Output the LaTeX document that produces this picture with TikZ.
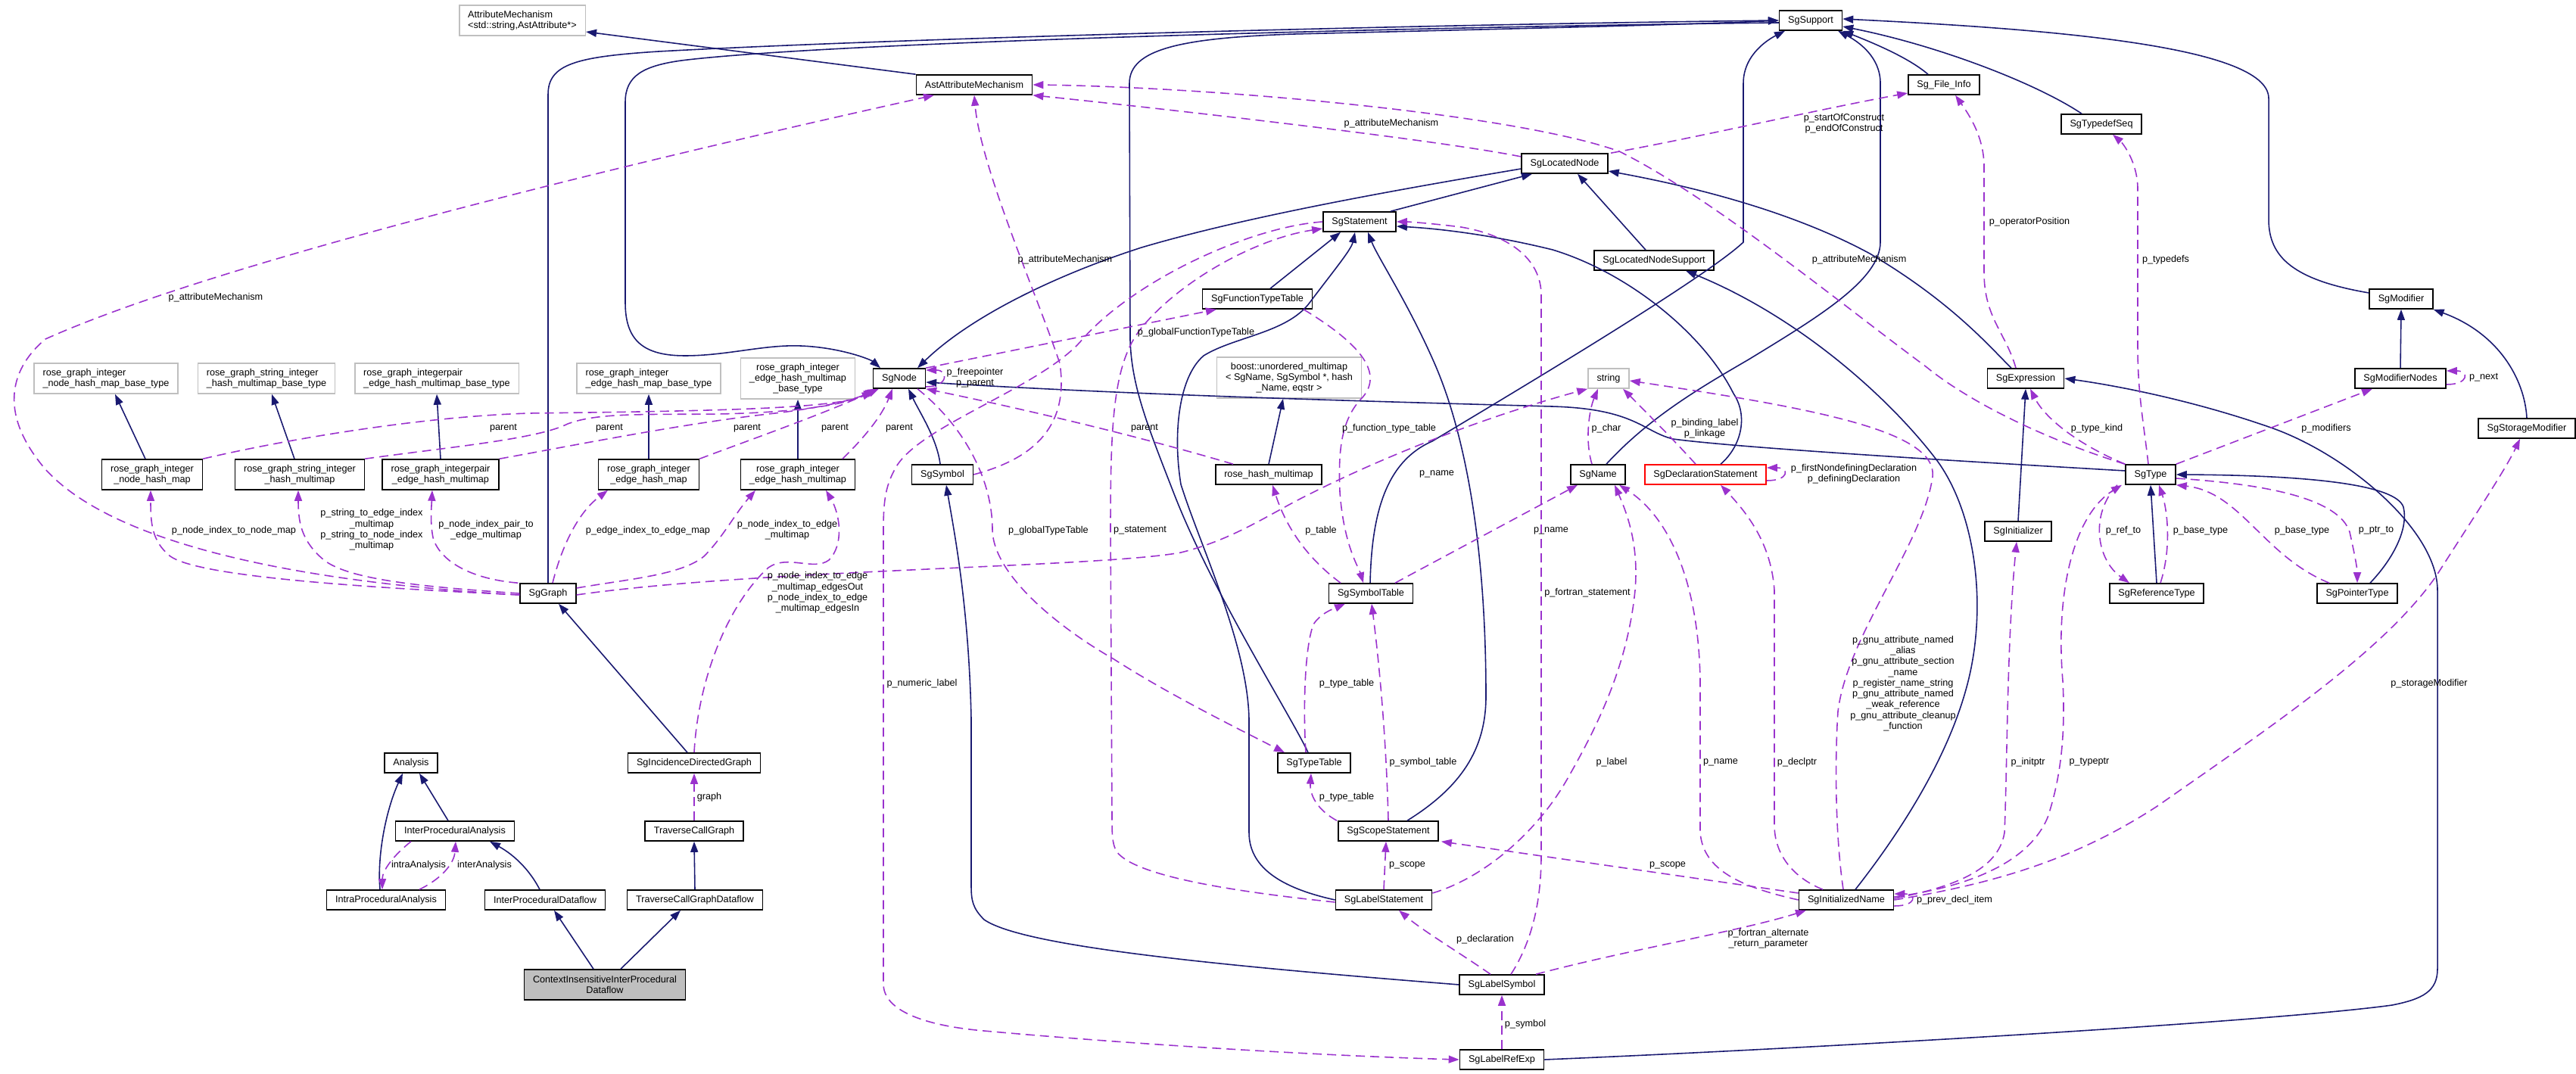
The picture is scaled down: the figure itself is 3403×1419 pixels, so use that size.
\documentclass[tikz,border=0pt]{standalone}
\usepackage{fontspec}
\setmainfont{Liberation Sans}
\usetikzlibrary{arrows.meta}
\definecolor{inhblue}{HTML}{191970}
\definecolor{usepurple}{HTML}{9A32CD}
\definecolor{extgray}{HTML}{BFBFBF}
\begin{document}
\begin{tikzpicture}[x=0.01cm,y=-0.01cm,>={Triangle[length=0.14cm,width=0.1cm]},
        font=\fontsize{3.6pt}{4.05pt}\selectfont,
        cls/.style={draw=black,line width=0.45pt,fill=white,align=center,inner xsep=0.115cm,inner ysep=0.02cm,minimum height=0.26cm},
        ext/.style={cls,draw=extgray},
        two/.style={minimum height=0.40cm},
        three/.style={minimum height=0.54cm},
        inh/.style={->,draw=inhblue,line width=0.45pt},
        dep/.style={->,draw=usepurple,line width=0.45pt,dash pattern=on 0.12cm off 0.07cm},
        lbl/.style={inner sep=0pt,align=center}]
        \useasboundingbox (0,0) rectangle (3403,1419);
        \node[ext,two,align=left] (am) at (690,27) {AttributeMechanism\\<std::string,AstAttribute*>};
        \node[cls] (sup) at (2392,27) {SgSupport};
        \node[cls] (aam) at (1287,112) {AstAttributeMechanism};
        \node[cls] (fi) at (2568,112) {Sg\_File\_Info};
        \node[cls] (tds) at (2776,164) {SgTypedefSeq};
        \node[cls] (lnode) at (2067,216) {SgLocatedNode};
        \node[cls] (stmt) at (1796,293) {SgStatement};
        \node[cls] (lns) at (2185,344) {SgLocatedNodeSupport};
        \node[cls] (ftt) at (1661,395) {SgFunctionTypeTable};
        \node[cls] (mod) at (3172,395) {SgModifier};
        \node[ext,two,align=left] (b1) at (140,500) {rose\_graph\_integer\\\_node\_hash\_map\_base\_type};
        \node[ext,two,align=left] (b2) at (352,500) {rose\_graph\_string\_integer\\\_hash\_multimap\_base\_type};
        \node[ext,two,align=left] (b3) at (577,500) {rose\_graph\_integerpair\\\_edge\_hash\_multimap\_base\_type};
        \node[ext,two,align=left] (b4) at (857,500) {rose\_graph\_integer\\\_edge\_hash\_map\_base\_type};
        \node[ext,three] (b5) at (1054,500) {rose\_graph\_integer\\\_edge\_hash\_multimap\\\_base\_type};
        \node[cls] (sgnode) at (1188,500) {SgNode};
        \node[ext,three] (boost) at (1703,499) {boost::unordered\_multimap\\< SgName, SgSymbol *, hash\\\_Name, eqstr >};
        \node[ext] (str) at (2125,500) {string};
        \node[cls] (expr) at (2676,500) {SgExpression};
        \node[cls] (mn) at (3171,500) {SgModifierNodes};
        \node[cls] (stor) at (3338,566) {SgStorageModifier};
        \node[cls,two] (r1) at (201,627) {rose\_graph\_integer\\\_node\_hash\_map};
        \node[cls,two] (r2) at (396,627) {rose\_graph\_string\_integer\\\_hash\_multimap};
        \node[cls,two] (r3) at (582,627) {rose\_graph\_integerpair\\\_edge\_hash\_multimap};
        \node[cls,two] (r4) at (857,627) {rose\_graph\_integer\\\_edge\_hash\_map};
        \node[cls,two] (r5) at (1054,627) {rose\_graph\_integer\\\_edge\_hash\_multimap};
        \node[cls] (sym) at (1245,627) {SgSymbol};
        \node[cls] (rhm) at (1676,627) {rose\_hash\_multimap};
        \node[cls] (sgname) at (2111,627) {SgName};
        \node[cls,draw=red] (decl) at (2253,627) {SgDeclarationStatement};
        \node[cls] (sgtype) at (2841,627) {SgType};
        \node[cls] (init) at (2666,702) {SgInitializer};
        \node[cls] (sggraph) at (724,784) {SgGraph};
        \node[cls] (symtab) at (1811,784) {SgSymbolTable};
        \node[cls] (reftype) at (2849,784) {SgReferenceType};
        \node[cls] (ptrtype) at (3114,784) {SgPointerType};
        \node[cls] (ana) at (543,1008) {Analysis};
        \node[cls] (idg) at (917,1008) {SgIncidenceDirectedGraph};
        \node[cls] (tt) at (1736,1008) {SgTypeTable};
        \node[cls] (ipa) at (601,1098) {InterProceduralAnalysis};
        \node[cls] (tcg) at (917,1098) {TraverseCallGraph};
        \node[cls] (scope) at (1834,1098) {SgScopeStatement};
        \node[cls] (intra) at (510,1189) {IntraProceduralAnalysis};
        \node[cls] (ipd) at (720,1189) {InterProceduralDataflow};
        \node[cls] (tcgd) at (918,1189) {TraverseCallGraphDataflow};
        \node[cls] (lstmt) at (1828,1189) {SgLabelStatement};
        \node[cls] (iname) at (2439,1189) {SgInitializedName};
        \node[cls,two,fill=extgray] (ci) at (799,1301) {ContextInsensitiveInterProcedural\\Dataflow};
        \node[cls] (lsym) at (1984,1301) {SgLabelSymbol};
        \node[cls] (lref) at (1984,1400) {SgLabelRefExp};

        \draw[inh] (aam.north west) -- ([yshift=-0.15cm]am.east);
        \draw[inh] ([yshift=-0.03cm]sup.west) .. controls (1900,35) and (1100,55) .. (900,80) .. controls (850,87) and (826,100) .. (826,135) -- (826,400) .. controls (826,450) and (850,470) .. (905,470) .. controls (960,470) and (1010,455) .. (1058,457) .. controls (1110,459) and (1150,475) .. ([xshift=-0.25cm]sgnode.north);
        \draw[inh] (sggraph.north) -- (724,125) .. controls (724,85) and (760,75) .. (870,68) .. controls (1200,50) and (1900,32) .. (sup.west);
        \draw[inh] ([xshift=-0.08cm]tt.north) .. controls (1705,945) and (1600,780) .. (1550,650) .. controls (1515,560) and (1495,510) .. (1493,450) -- (1492,110) .. controls (1492,65) and (1560,50) .. (1710,45) .. controls (2000,38) and (2250,32) .. (sup.west);
        \draw[inh] ([yshift=-0.07cm]lnode.west) .. controls (1850,250) and (1650,285) .. (1508,327) .. controls (1390,365) and (1280,420) .. ([xshift=0.24cm]sgnode.north);
        \draw[inh] ([xshift=-0.03cm]sym.north) .. controls (1238,580) and (1215,545) .. ([xshift=0.12cm]sgnode.south);
        \draw[inh] ([yshift=0.05cm]sgtype.west) .. controls (2600,610) and (2300,592) .. (2210,580) .. controls (2170,570) and (2160,540) .. (2050,537) .. controls (1800,530) and (1500,522) .. ([yshift=-0.05cm]sgnode.east);
        \draw[inh] ([xshift=0.41cm]stmt.north) -- ([xshift=-0.43cm]lnode.south);
        \draw[inh] ([xshift=-0.11cm]lns.north) -- ([xshift=0.17cm]lnode.south);
        \draw[inh] ([xshift=-0.19cm]expr.north) .. controls (2630,460) and (2580,400) .. (2470,335) .. controls (2350,270) and (2200,240) .. ([yshift=-0.1cm]lnode.east);
        \draw[inh] ([xshift=-0.21cm]fi.north) .. controls (2520,75) and (2470,55) .. (sup.south east);
        \draw[inh] ([xshift=-0.26cm]tds.north) .. controls (2690,110) and (2560,60) .. ([yshift=-0.08cm]sup.east);
        \draw[inh] ([yshift=0.08cm]mod.west) .. controls (3030,370) and (2997,340) .. (2997,290) -- (2997,130) .. controls (2997,60) and (2700,38) .. ([yshift=0.02cm]sup.east);
        \draw[inh] ([xshift=0.11cm]sgname.north) .. controls (2180,550) and (2250,510) .. (2310,475) .. controls (2400,420) and (2484,370) .. (2484,320) -- (2484,110) .. controls (2484,75) and (2455,55) .. ([xshift=0.36cm]sup.south);
        \draw[inh] ([xshift=-0.01cm]symtab.north) .. controls (1812,680) and (1830,610) .. (1892,583) .. controls (1980,530) and (2250,370) .. (2303,320) -- (2303,110) .. controls (2303,70) and (2340,50) .. ([xshift=-0.34cm]sup.south);
        \draw[inh] ([xshift=0.17cm]ftt.north) -- ([xshift=-0.25cm]stmt.south);
        \draw[inh] (lstmt.west) .. controls (1700,1175) and (1650,1150) .. (1650,1100) -- (1650,950) .. controls (1648,850) and (1585,720) .. (1560,640) .. controls (1550,580) and (1555,500) .. (1590,470) .. controls (1630,445) and (1700,440) .. (1730,400) .. controls (1760,360) and (1785,330) .. ([xshift=-0.06cm]stmt.south);
        \draw[inh] ([xshift=0.25cm]scope.north) .. controls (1930,1040) and (1963,990) .. (1963,920) .. controls (1963,700) and (1930,560) .. (1895,480) .. controls (1860,400) and (1820,340) .. ([xshift=0.11cm]stmt.south);
        \draw[inh] ([xshift=0.2cm]decl.north) .. controls (2300,590) and (2310,550) .. (2290,520) .. controls (2250,440) and (2150,360) .. (2051,330) .. controls (1970,310) and (1900,302) .. ([yshift=-0.06cm]stmt.east);
        \draw[inh] ([xshift=0.12cm]iname.north) .. controls (2510,1100) and (2575,1000) .. (2600,900) .. controls (2625,800) and (2610,680) .. (2560,610) .. controls (2500,530) and (2380,420) .. ([xshift=0.42cm]lns.south);
        \draw[inh] (mn.north) -- (mod.south);
        \draw[inh] (stor.north) .. controls (3335,500) and (3300,440) .. (mod.south east);
        \draw[inh] (init.north) -- (expr.south);
        \draw[inh] (lref.east) .. controls (2400,1385) and (3000,1350) .. (3160,1328) .. controls (3200,1320) and (3220,1310) .. (3220,1280) -- (3220,780) .. controls (3220,700) and (3100,600) .. (3000,565) .. controls (2900,530) and (2800,510) .. (expr.east);
        \draw[inh] (reftype.north) -- (sgtype.south);
        \draw[inh] ([xshift=0.17cm]ptrtype.north) .. controls (3160,740) and (3182,700) .. (3175,670) .. controls (3165,640) and (3050,628) .. (sgtype.east);
        \draw[inh] (lsym.west) .. controls (1600,1275) and (1350,1250) .. (1300,1215) .. controls (1285,1200) and (1283,1190) .. (1283,1170) -- (1283,950) .. controls (1280,800) and (1260,700) .. ([xshift=0.05cm]sym.south);
        \draw[inh] ([xshift=-0.09cm]idg.north) -- ([xshift=0.14cm]sggraph.south);
        \draw[inh] ([xshift=-0.09cm]r1.north) -- ([xshift=0.12cm]b1.south);
        \draw[inh] ([xshift=-0.07cm]r2.north) -- ([xshift=0.07cm]b2.south);
        \draw[inh] (r3.north) -- (b3.south);
        \draw[inh] (r4.north) -- (b4.south);
        \draw[inh] (r5.north) -- (b5.south);
        \draw[inh] (rhm.north) -- ([xshift=-0.08cm]boost.south);
        \draw[inh] ([xshift=-0.08cm]intra.north) .. controls (498,1130) and (510,1070) .. ([xshift=-0.11cm]ana.south);
        \draw[inh] ([xshift=-0.09cm]ipa.north) -- ([xshift=0.11cm]ana.south);
        \draw[inh] ([xshift=-0.07cm]ipd.north) .. controls (700,1150) and (680,1130) .. ([xshift=0.46cm]ipa.south);
        \draw[inh] ([xshift=-0.15cm]ci.north) -- ([xshift=0.12cm]ipd.south);
        \draw[inh] ([xshift=0.21cm]ci.north) -- ([xshift=-0.19cm]tcgd.south);
        \draw[inh] (tcgd.north) -- (tcg.south);

        \draw[dep] ([yshift=-0.02cm]sggraph.west) .. controls (400,770) and (150,720) .. (60,620) .. controls (0,550) and (10,490) .. (60,448) .. controls (300,340) and (900,200) .. ([xshift=-0.53cm]aam.south);
        \draw[dep] ([yshift=-0.02cm]sggraph.west) .. controls (450,775) and (260,760) .. (225,735) .. controls (200,715) and (199,690) .. ([xshift=-0.02cm]r1.south);
        \draw[dep] (sggraph.west) .. controls (550,775) and (460,765) .. (428,740) .. controls (398,715) and (394,690) .. ([xshift=-0.02cm]r2.south);
        \draw[dep] ([xshift=-0.02cm]sggraph.north west) .. controls (620,765) and (580,740) .. (572,710) .. controls (568,690) and (570,670) .. ([xshift=-0.11cm]r3.south);
        \draw[dep] ([xshift=0.06cm]sggraph.north) .. controls (740,730) and (760,680) .. ([xshift=-0.54cm]r4.south);
        \draw[dep] ([yshift=0.07cm]sggraph.east) .. controls (830,765) and (900,760) .. (930,735) .. controls (955,710) and (970,680) .. ([xshift=-0.56cm]r5.south);
        \draw[dep] ([yshift=-0.02cm]sggraph.east) .. controls (1000,752) and (1450,750) .. (1560,730) .. controls (1620,715) and (1660,690) .. (1710,663) .. controls (1850,590) and (2000,540) .. (str.south west);
        \draw[dep] (sym.east) .. controls (1370,605) and (1412,560) .. (1400,480) .. controls (1370,390) and (1295,220) .. (aam.south);
        \draw[dep] ([yshift=0.09cm]lnode.west) .. controls (1900,185) and (1550,145) .. (aam.south east);
        \draw[dep] (sgtype.north west) .. controls (2700,580) and (2600,530) .. (2545,485) .. controls (2430,400) and (2260,260) .. (2139,200) .. controls (2000,150) and (1600,115) .. (aam.east);
        \draw[dep] ([xshift=0.61cm]lnode.north) .. controls (2250,180) and (2400,145) .. ([yshift=-0.11cm]fi.west);
        \draw[dep] ([xshift=-0.13cm]expr.north) .. controls (2650,440) and (2621,420) .. (2621,360) -- (2621,220) .. controls (2621,180) and (2600,150) .. ([xshift=0.15cm]fi.south);
        \draw[dep] ([xshift=-0.03cm]sgtype.north) .. controls (2832,560) and (2824,520) .. (2824,460) -- (2824,250) .. controls (2824,215) and (2805,190) .. ([xshift=0.15cm]tds.south);
        \draw[dep] (sgtype.north west) .. controls (2740,585) and (2700,550) .. ([xshift=0.06cm]expr.south);
        \draw[dep] (sgtype.north east) -- ([xshift=-0.37cm]mn.south);
        \draw[dep] ([yshift=-0.08cm]mn.east) .. controls +(30,0) and +(30,0) .. ([yshift=0.1cm]mn.east);
        \draw[dep] ([xshift=-0.44cm]sgtype.south) .. controls (2760,680) and (2770,740) .. ([xshift=-0.36cm]reftype.north);
        \draw[dep] ([xshift=0.05cm]reftype.north) .. controls (2870,720) and (2862,670) .. ([xshift=0.11cm]sgtype.south);
        \draw[dep] ([xshift=-0.37cm]ptrtype.north) .. controls (2990,735) and (2960,650) .. (sgtype.south east);
        \draw[dep] ([yshift=-0.05cm]sgtype.east) .. controls (3000,640) and (3090,660) .. (3104,703) .. controls (3110,730) and (3114,750) .. (ptrtype.north);
        \draw[dep] ([yshift=0.04cm]iname.east) .. controls (2600,1172) and (2680,1140) .. (2705,1080) .. controls (2725,1020) and (2728,960) .. (2725,900) .. controls (2715,780) and (2740,680) .. ([xshift=-0.38cm]sgtype.south);
        \draw[dep] ([yshift=0.02cm]iname.east) .. controls (2580,1172) and (2640,1150) .. (2648,1100) .. controls (2652,1000) and (2651,850) .. ([xshift=-0.02cm]init.south);
        \draw[dep] (iname.east) .. controls (2650,1165) and (2750,1130) .. (2850,1065) .. controls (3000,960) and (3150,860) .. (3219,760) .. controls (3270,680) and (3310,620) .. ([xshift=-0.09cm]stor.south);
        \draw[dep] ([yshift=-0.08cm]iname.east) .. controls +(30,0) and +(30,0) .. ([yshift=0.08cm]iname.east);
        \draw[dep] (iname.west) .. controls (2300,1172) and (2250,1150) .. (2246,1100) -- (2246,900) .. controls (2244,760) and (2200,680) .. ([xshift=0.28cm]sgname.south);
        \draw[dep] ([xshift=-0.31cm]iname.north) .. controls (2370,1160) and (2344,1130) .. (2344,1090) -- (2344,780) .. controls (2340,720) and (2310,680) .. ([xshift=0.2cm]decl.south);
        \draw[dep] ([xshift=-0.04cm]iname.north) .. controls (2424,1100) and (2424,1000) .. (2428,940) .. controls (2440,840) and (2540,720) .. (2553,630) .. controls (2560,570) and (2400,540) .. ([yshift=-0.03cm]str.east);
        \draw[dep] ([yshift=0.09cm]iname.west) -- ([xshift=0.03cm]scope.south east);
        \draw[dep] (lstmt.north) -- ([xshift=-0.03cm]scope.south);
        \draw[dep] ([xshift=-0.68cm]scope.north) .. controls (1740,1070) and (1730,1050) .. ([xshift=-0.04cm]tt.south);
        \draw[dep] (scope.north) .. controls (1832,1000) and (1825,900) .. ([xshift=0.01cm]symtab.south);
        \draw[dep] ([xshift=-0.11cm]tt.north) .. controls (1722,950) and (1722,860) .. (1735,825) .. controls (1745,810) and (1760,805) .. ([xshift=-0.34cm]symtab.south);
        \draw[dep] ([xshift=0.61cm]ftt.south) .. controls (1790,450) and (1830,490) .. (1800,525) .. controls (1770,555) and (1768,600) .. (1770,650) .. controls (1775,720) and (1795,750) .. ([xshift=-0.1cm]symtab.north);
        \draw[dep] ([xshift=-0.4cm]symtab.north) .. controls (1730,740) and (1700,700) .. ([xshift=0.05cm]rhm.south);
        \draw[dep] ([xshift=0.32cm]symtab.north) -- ([xshift=-0.27cm]sgname.south);
        \draw[dep] ([xshift=-0.08cm]sgname.north) .. controls (2093,580) and (2100,540) .. ([xshift=-0.14cm]str.south);
        \draw[dep] ([xshift=-0.13cm]decl.north) .. controls (2210,580) and (2170,540) .. ([xshift=0.19cm]str.south);
        \draw[dep] ([yshift=-0.08cm]decl.east) .. controls +(30,0) and +(30,0) .. ([yshift=0.09cm]decl.east);
        \draw[dep] ([yshift=-0.03cm]lstmt.west) .. controls (1650,1180) and (1500,1160) .. (1475,1125) .. controls (1469,1115) and (1469,1100) .. (1469,1080) -- (1467,700) .. controls (1467,560) and (1470,480) .. (1508,433) .. controls (1560,370) and (1660,315) .. ([yshift=-0.09cm]stmt.west);
        \draw[dep] (stmt.west) .. controls (1650,300) and (1500,370) .. (1431,447) .. controls (1380,510) and (1220,560) .. (1185,615) .. controls (1170,640) and (1167,660) .. (1167,700) -- (1167,1300) .. controls (1167,1335) and (1220,1355) .. (1300,1362) .. controls (1500,1380) and (1750,1395) .. (lref.west);
        \draw[dep] ([xshift=0.12cm]lsym.north) .. controls (2020,1250) and (2036,1200) .. (2036,1130) -- (2036,390) .. controls (2036,340) and (1990,310) .. (1930,300) .. controls (1890,295) and (1860,293) .. (stmt.east);
        \draw[dep] ([yshift=0.09cm]lstmt.east) .. controls (1960,1160) and (2030,1100) .. (2070,1030) .. controls (2110,960) and (2150,880) .. (2160,780) .. controls (2165,720) and (2150,680) .. ([xshift=0.22cm]sgname.south);
        \draw[dep] ([xshift=-0.15cm]lsym.north) .. controls (1930,1260) and (1880,1230) .. ([xshift=0.2cm]lstmt.south);
        \draw[dep] ([xshift=0.45cm]lsym.north) .. controls (2150,1255) and (2300,1230) .. ([xshift=-0.53cm]iname.south);
        \draw[dep] (lref.north) -- (lsym.south);
        \draw[dep] (idg.north) .. controls (922,900) and (960,800) .. (1015,750) .. controls (1040,732) and (1075,755) .. (1095,740) .. controls (1115,720) and (1110,680) .. ([xshift=0.37cm]r5.south);
        \draw[dep] (tcg.north) -- (idg.south);
        \draw[dep] ([xshift=-0.58cm]ipa.south) .. controls (520,1130) and (505,1150) .. ([xshift=-0.05cm]intra.north);
        \draw[dep] ([xshift=0.44cm]intra.north) .. controls (585,1160) and (600,1140) .. ([xshift=0.01cm]ipa.south);
        \draw[dep] ([yshift=-0.11cm]sgnode.east) .. controls +(30,0) and +(30,0) .. ([yshift=0.11cm]sgnode.east);
        \draw[dep] (sgnode.north east) -- ([xshift=-0.54cm]ftt.south);
        \draw[dep] ([xshift=0.24cm]sgnode.south) .. controls (1270,560) and (1311,630) .. (1311,700) .. controls (1312,760) and (1400,830) .. (1470,870) .. controls (1540,915) and (1620,955) .. ([xshift=-0.39cm]tt.north);
        \draw[dep] (r1.north east) .. controls (380,580) and (560,550) .. (700,546) .. controls (950,543) and (1100,540) .. ([yshift=-0.18cm]sgnode.west);
        \draw[dep] (r2.north east) .. controls (600,590) and (710,580) .. (750,560) .. controls (790,545) and (850,548) .. (950,547) .. controls (1050,545) and (1120,535) .. ([xshift=0.02cm]sgnode.south west);
        \draw[dep] (r3.north east) .. controls (750,590) and (900,560) .. (1015,547) .. controls (1080,540) and (1130,528) .. ([xshift=0.05cm]sgnode.south west);
        \draw[dep] (r4.north east) .. controls (980,585) and (1080,550) .. ([xshift=0.08cm]sgnode.south west);
        \draw[dep] ([xshift=0.59cm]r5.north) .. controls (1140,580) and (1165,550) .. ([xshift=0.26cm]sgnode.south west);
        \draw[dep] ([xshift=-0.47cm]rhm.north) .. controls (1500,575) and (1350,540) .. (sgnode.south east);

        \node[lbl] (lgam) at (285,393) {p\_attributeMechanism};
        \node[lbl] (lgn) at (309,701) {p\_node\_index\_to\_node\_map};
        \node[lbl] (lgs) at (491,700) {p\_string\_to\_edge\_index\\\_multimap\\p\_string\_to\_node\_index\\\_multimap};
        \node[lbl] (lgp) at (642,700) {p\_node\_index\_pair\_to\\\_edge\_multimap};
        \node[lbl] (lge) at (856,701) {p\_edge\_index\_to\_edge\_map};
        \node[lbl] (lgm) at (1040,700) {p\_node\_index\_to\_edge\\\_multimap};
        \node[lbl] (lgname) at (1898,626) {p\_name};
        \node[lbl] (lsam) at (1407,343) {p\_attributeMechanism};
        \node[lbl] (llam) at (1838,163) {p\_attributeMechanism};
        \node[lbl] (ltam) at (2456,343) {p\_attributeMechanism};
        \node[lbl] (lcons) at (2436,163) {p\_startOfConstruct\\p\_endOfConstruct};
        \node[lbl] (lop) at (2681,293) {p\_operatorPosition};
        \node[lbl] (ltd) at (2861,343) {p\_typedefs};
        \node[lbl] (ltk) at (2770,566) {p\_type\_kind};
        \node[lbl] (lmods) at (3073,566) {p\_modifiers};
        \node[lbl] (lnext) at (3281,499) {p\_next};
        \node[lbl] (lrefto) at (2805,701) {p\_ref\_to};
        \node[lbl] (lbt1) at (2907,701) {p\_base\_type};
        \node[lbl] (lbt2) at (3041,701) {p\_base\_type};
        \node[lbl] (lptrto) at (3139,701) {p\_ptr\_to};
        \node[lbl] (ltp) at (2760,1007) {p\_typeptr};
        \node[lbl] (lip) at (2679,1007) {p\_initptr};
        \node[lbl] (lsm) at (3209,903) {p\_storageModifier};
        \node[lbl] (lprev) at (2582,1189) {p\_prev\_decl\_item};
        \node[lbl] (linm) at (2273,1007) {p\_name};
        \node[lbl] (ldp) at (2374,1007) {p\_declptr};
        \node[lbl] (lgnu) at (2514,903) {p\_gnu\_attribute\_named\\\_alias\\p\_gnu\_attribute\_section\\\_name\\p\_register\_name\_string\\p\_gnu\_attribute\_named\\\_weak\_reference\\p\_gnu\_attribute\_cleanup\\\_function};
        \node[lbl] (lisc) at (2203,1143) {p\_scope};
        \node[lbl] (llsc) at (1859,1143) {p\_scope};
        \node[lbl] (lstt) at (1779,1053) {p\_type\_table};
        \node[lbl] (lsst) at (1880,1007) {p\_symbol\_table};
        \node[lbl] (lttt) at (1779,903) {p\_type\_table};
        \node[lbl] (lftt) at (1835,566) {p\_function\_type\_table};
        \node[lbl] (ltab) at (1745,701) {p\_table};
        \node[lbl] (lstn) at (2049,701) {p\_name};
        \node[lbl] (lchar) at (2122,566) {p\_char};
        \node[lbl] (lbind) at (2252,566) {p\_binding\_label\\p\_linkage};
        \node[lbl] (ldefs) at (2449,626) {p\_firstNondefiningDeclaration\\p\_definingDeclaration};
        \node[lbl] (lstat) at (1506,701) {p\_statement};
        \node[lbl] (lnum) at (1218,903) {p\_numeric\_label};
        \node[lbl] (lfort) at (2097,783) {p\_fortran\_statement};
        \node[lbl] (llab) at (2129,1007) {p\_label};
        \node[lbl] (ldecl) at (1962,1241) {p\_declaration};
        \node[lbl] (lalt) at (2336,1240) {p\_fortran\_alternate\\\_return\_parameter};
        \node[lbl] (lsymb) at (2015,1353) {p\_symbol};
        \node[lbl] (ledges) at (1080,783) {p\_node\_index\_to\_edge\\\_multimap\_edgesOut\\p\_node\_index\_to\_edge\\\_multimap\_edgesIn};
        \node[lbl] (lgraph) at (937,1053) {graph};
        \node[lbl] (lintra) at (553,1143) {intraAnalysis};
        \node[lbl] (linter) at (640,1143) {interAnalysis};
        \node[lbl] (lfree) at (1288,499) {p\_freepointer\\p\_parent};
        \node[lbl] (lgftt) at (1580,439) {p\_globalFunctionTypeTable};
        \node[lbl] (lgtt) at (1385,701) {p\_globalTypeTable};
        \node[lbl] (lpar1) at (665,566) {parent};
        \node[lbl] (lpar2) at (805,566) {parent};
        \node[lbl] (lpar3) at (987,566) {parent};
        \node[lbl] (lpar4) at (1103,566) {parent};
        \node[lbl] (lpar5) at (1188,566) {parent};
        \node[lbl] (lpar6) at (1512,566) {parent};
\end{tikzpicture}
\end{document}
